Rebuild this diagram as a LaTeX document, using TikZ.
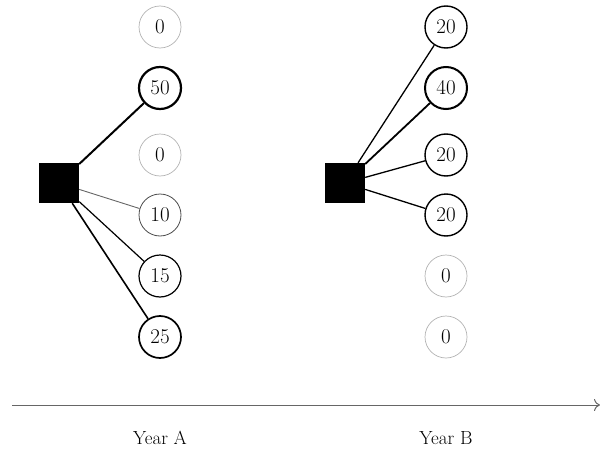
\documentclass[tikz,border=0pt]{standalone}
\usetikzlibrary{arrows.meta}
\begin{document}
\begin{tikzpicture}[x=1pt,y=-1pt,
  val/.style={circle,draw,minimum size=42pt,inner sep=0pt,font=\fontsize{21}{24}\selectfont},
  zero/.style={val,draw=black!30,line width=0.7pt},
  dec/.style={rectangle,fill=black,minimum size=40pt,inner sep=0pt},
  lbl/.style={font=\fontsize{19}{22}\selectfont}]
\useasboundingbox (0,0) rectangle (600,455);
% Year A
\node[dec] (sa) at (59,183) {};
\node[zero] (a1) at (160,27) {0};
\node[val,line width=2.2pt] (a2) at (160,88) {50};
\node[zero] (a3) at (160,155) {0};
\node[val,draw=black!70,line width=0.8pt] (a4) at (160,215) {10};
\node[val,line width=1.2pt] (a5) at (160,276) {15};
\node[val,line width=1.7pt] (a6) at (160,337) {25};
\draw[line width=2pt] (sa) -- (a2);
\draw[draw=black!60,line width=0.9pt] (sa) -- (a4);
\draw[line width=1.2pt] (sa) -- (a5);
\draw[line width=1.6pt] (sa) -- (a6);
% Year B
\node[dec] (sb) at (345,183) {};
\node[val,line width=1.4pt] (b1) at (446,27) {20};
\node[val,line width=2pt] (b2) at (446,88) {40};
\node[val,line width=1.4pt] (b3) at (446,155) {20};
\node[val,line width=1.4pt] (b4) at (446,215) {20};
\node[zero] (b5) at (446,276) {0};
\node[zero] (b6) at (446,337) {0};
\draw[line width=1.3pt] (sb) -- (b1);
\draw[line width=1.8pt] (sb) -- (b2);
\draw[line width=1.3pt] (sb) -- (b3);
\draw[line width=1.3pt] (sb) -- (b4);
% axis
\coordinate (ax0) at (12,405);
\coordinate (ax1) at (600,405);
\draw[draw=black!60,line width=1pt,-{To[length=6pt,width=12pt]}] (ax0) -- (ax1);
\node[lbl] (ya) at (160,438) {Year A};
\node[lbl] (yb) at (446,438) {Year B};
\end{tikzpicture}
\end{document}
